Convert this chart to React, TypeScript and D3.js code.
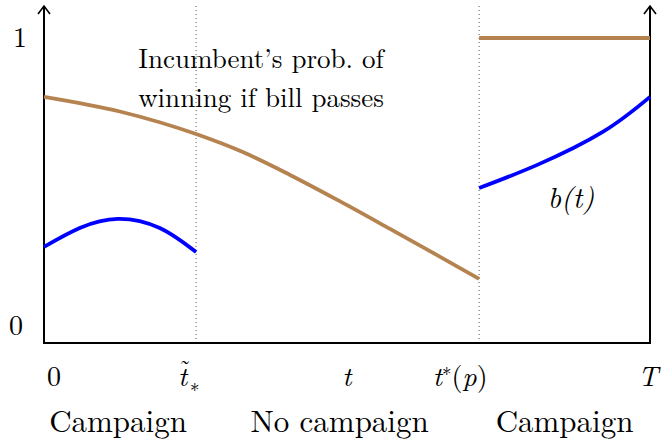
import React from 'react';
import * as d3 from 'd3';

// time is on [0, 1] with T = 1
const tLow = 0.251;   // t~_*
const tStar = 0.718;  // t*(p)

const brownLeftT = [0, 0.125, 0.251, 0.328, 0.406, 0.488, 0.571, 0.645, 0.718];
const brownLeftV = [0.807, 0.759, 0.685, 0.626, 0.551, 0.465, 0.374, 0.292, 0.21];
const brownRightT = [0.718, 1];
const brownRightV = [1, 1];

const blueLeftT = [0, 0.059, 0.122, 0.191, 0.251];
const blueLeftV = [0.315, 0.377, 0.407, 0.377, 0.298];
const blueRightT = [0.718, 0.814, 0.922, 1];
const blueRightV = [0.508, 0.584, 0.692, 0.807];

const regionLabels = ['Campaign', 'No campaign', 'Campaign'];

const W = 661;
const H = 442;
const lm = { fontFamily: "'Latin Modern Roman'" };

const App: React.FC = () => {
  const x = d3.scaleLinear().domain([0, 1]).range([44, 650]);
  const y = d3.scaleLinear().domain([0, 1]).range([343, 38]);

  const line = d3.line<[number, number]>()
    .x(d => x(d[0]))
    .y(d => y(d[1]))
    .curve(d3.curveMonotoneX);
  const smooth = d3.line<[number, number]>()
    .x(d => x(d[0]))
    .y(d => y(d[1]))
    .curve(d3.curveNatural);

  const zip = (a: number[], b: number[]) => a.map((t, i) => [t, b[i]] as [number, number]);

  const top = 6;
  const arrow = (cx: number) =>
    `M${cx - 6},${top + 8} L${cx},${top} L${cx + 6},${top + 8}`;

  const regionMid = [(0 + tLow) / 2, (tLow + tStar) / 2, (tStar + 1) / 2];
  const tx = x(tLow) - 18;

  return (
    <svg width={W} height={H} style={{ position: 'absolute', left: 0, top: 0 }}>
      {/* dotted guides */}
      {[tLow, tStar].map((t, i) => (
        <line key={i} x1={x(t)} x2={x(t)} y1={top} y2={y(0)}
          stroke="#555" strokeWidth={1} strokeDasharray="1,3" />
      ))}

      {/* axes */}
      <line x1={x(0)} x2={x(0)} y1={y(0) + 1} y2={top} stroke="#000" strokeWidth={2} />
      <line x1={x(1)} x2={x(1)} y1={y(0) + 1} y2={top} stroke="#000" strokeWidth={2} />
      <line x1={x(0) - 1} x2={x(1) + 1} y1={y(0)} y2={y(0)} stroke="#000" strokeWidth={2} />
      <path d={arrow(x(0))} fill="none" stroke="#000" strokeWidth={1.6} />
      <path d={arrow(x(1))} fill="none" stroke="#000" strokeWidth={1.6} />

      {/* curves */}
      <path d={line(zip(brownLeftT, brownLeftV)) || ''} fill="none" stroke="#b5834f" strokeWidth={3.8} />
      <path d={line(zip(brownRightT, brownRightV)) || ''} fill="none" stroke="#b5834f" strokeWidth={3.8} />
      <path d={smooth(zip(blueLeftT, blueLeftV)) || ''} fill="none" stroke="#0000ff" strokeWidth={3.8} />
      <path d={smooth(zip(blueRightT, blueRightV)) || ''} fill="none" stroke="#0000ff" strokeWidth={3.8} />

      {/* y labels */}
      <text style={lm} x={20} y={y(1) + 9} fontSize={28} textAnchor="middle">1</text>
      <text style={lm} x={16} y={y(0) - 8} fontSize={28} textAnchor="middle">0</text>

      {/* annotation */}
      <text style={lm} x={261} y={68} fontSize={27} textAnchor="middle">Incumbent’s prob. of</text>
      <text style={lm} x={261} y={107} fontSize={27} textAnchor="middle">winning if bill passes</text>
      <text style={lm} x={571} y={208} fontSize={29} fontStyle="italic" textAnchor="middle">b(t)</text>

      {/* x tick labels */}
      <g fontSize={28}>
        <text style={lm} x={x(0) + 10} y={386} textAnchor="middle">0</text>
        <text style={lm} x={tx} y={386} fontStyle="italic">
          t
          <tspan x={tx + 1} y={377} fontSize={24} fontStyle="normal">˜</tspan>
          <tspan x={tx + 12} y={392} fontSize={19} fontStyle="normal">∗</tspan>
        </text>
        <text style={lm} x={347} y={386} textAnchor="middle" fontStyle="italic">t</text>
        <text style={lm} x={x(tStar) - 19} y={386} textAnchor="middle">
          <tspan fontStyle="italic">t</tspan><tspan dy={-10} fontSize={19}>∗</tspan><tspan dy={10}>(</tspan><tspan fontStyle="italic">p</tspan>)
        </text>
        <text style={lm} x={x(1) - 2} y={386} textAnchor="middle" fontStyle="italic">T</text>
      </g>

      {/* region labels */}
      {regionLabels.map((s, i) => (
        <text style={lm} key={i} x={x(regionMid[i]) + [-2, 2, 0][i]} y={432} fontSize={31}
          textAnchor="middle">{s}</text>
      ))}
    </svg>
  );
};

export default App;
